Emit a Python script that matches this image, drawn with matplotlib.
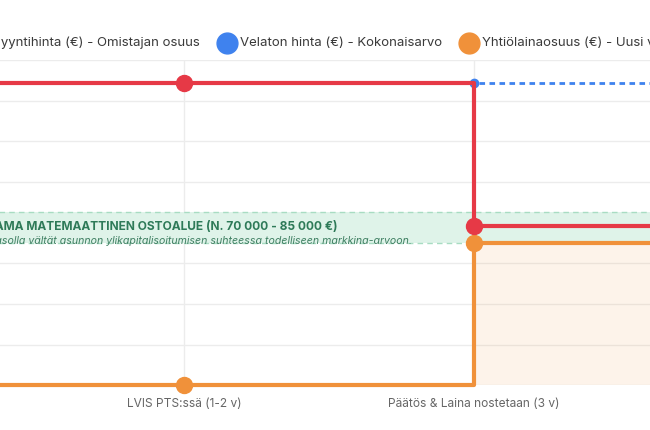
import matplotlib
matplotlib.use("Agg")
import matplotlib.pyplot as plt

plt.rcParams['font.family'] = ['Inter', 'DejaVu Sans']

# data
labels = ["Nyt (0 v)", "LVIS PTS:ssä (1-2 v)", "Päätös & Laina nostetaan (3 v)", "Remontin jälkeen (4 v)"]
owner_share = [148500, 148500, 78500, 78500]
debt_free = [148500, 148500, 148500, 148500]
loan_share = [0, 0, 70000, 70000]
zone_low, zone_high = 70000, 85000

legend_labels = ["Myyntihinta (€) - Omistajan osuus",
                 "Velaton hinta (€) - Kokonaisarvo",
                 "Yhtiölainaosuus (€) - Uusi velka"]

RED = '#e63946'
BLUE = '#3f82ee'
ORANGE = '#f0913a'
W, H = 650, 430

fig = plt.figure(figsize=(W / 100, H / 100), dpi=100)
fig.patch.set_facecolor('white')

# the chart is cut at both sides, so the axes run past the figure edges
x0_px, x3_px = -106, 764
top_px, bot_px = 60, 385.3
ax = fig.add_axes([x0_px / W, (H - bot_px) / H, (x3_px - x0_px) / W, (bot_px - top_px) / H])
x = list(range(len(labels)))

ax.set_xlim(0, len(labels) - 1)
ax.set_ylim(0, 160000)
ax.set_yticks(range(0, 160001, 20000))
ax.set_xticks(x)
# only the middle labels fit inside the cut picture
shown = [lab if 0 < i < len(labels) - 1 else "" for i, lab in enumerate(labels)]
ax.set_xticklabels(shown, fontsize=8.6, color='#666666')
ax.tick_params(axis='x', length=0, pad=9)
ax.tick_params(axis='y', length=0, labelleft=False)
for s in ax.spines.values():
    s.set_visible(False)
ax.grid(True, color='#ececec', linewidth=1)
ax.set_axisbelow(True)

# recommended buying zone
ax.axhspan(zone_low, zone_high, color='#dff3e9', zorder=1, lw=0)
ax.axhline(zone_high, color='#a8dcc2', lw=1, ls=(0, (4, 3)), zorder=1.5)
ax.axhline(zone_low, color='#a8dcc2', lw=1, ls=(0, (4, 3)), zorder=1.5)

# loan share area
ax.fill_between(x, loan_share, 0, step='post', color=ORANGE, alpha=0.1, lw=0, zorder=1)

ax.plot(x, debt_free, drawstyle='steps-post', color=BLUE, lw=2, ls=(0, (2, 1.6)), zorder=3, clip_on=False)
ax.plot(x, debt_free, ls='none', marker='o', ms=6, color=BLUE, zorder=3, clip_on=False)
ax.plot(x, loan_share, drawstyle='steps-post', color=ORANGE, lw=3, zorder=4, clip_on=False)
ax.plot(x, loan_share, ls='none', marker='o', ms=11.5, color=ORANGE, zorder=4, clip_on=False)
ax.plot(x, owner_share, drawstyle='steps-post', color=RED, lw=3, zorder=5, clip_on=False)
ax.plot(x, owner_share, ls='none', marker='o', ms=11.5, color=RED, zorder=5, clip_on=False)

# zone texts
fig.text(337 / W, (H - 227) / H, "LASKELMAN OSOITTAMA MATEMAATTINEN OSTOALUE (N. 70 000 - 85 000 €)",
         ha='right', va='center', fontsize=8.6, fontweight='bold', color='#2e7a58')
fig.text(412 / W, (H - 241) / H,
         "Pysymällä tällä hintatasolla vältät asunnon ylikapitalisoitumisen suhteessa todelliseen markkina-arvoon.",
         ha='right', va='center', fontsize=7.6, style='italic', color='#3f7f62')

# legend drawn by hand, it is cut too
leg_y = (H - 43) / H
fig.text(200 / W, leg_y, legend_labels[0], ha='right', va='center', fontsize=9.5, color='#3a3a3a')
fig.text(240 / W, leg_y, legend_labels[1], ha='left', va='center', fontsize=9.5, color='#3a3a3a')
fig.text(482 / W, leg_y, legend_labels[2], ha='left', va='center', fontsize=9.5, color='#3a3a3a')
leg = fig.add_axes([0, 0, 1, 1], facecolor='none')
leg.set_xlim(0, W)
leg.set_ylim(H, 0)
leg.axis('off')
for lx, c in zip([-25, 227, 469], [RED, BLUE, ORANGE]):
    leg.plot(lx, 43, marker='o', ms=15, color=c, ls='none')

fig.savefig('out.png', dpi=100)
